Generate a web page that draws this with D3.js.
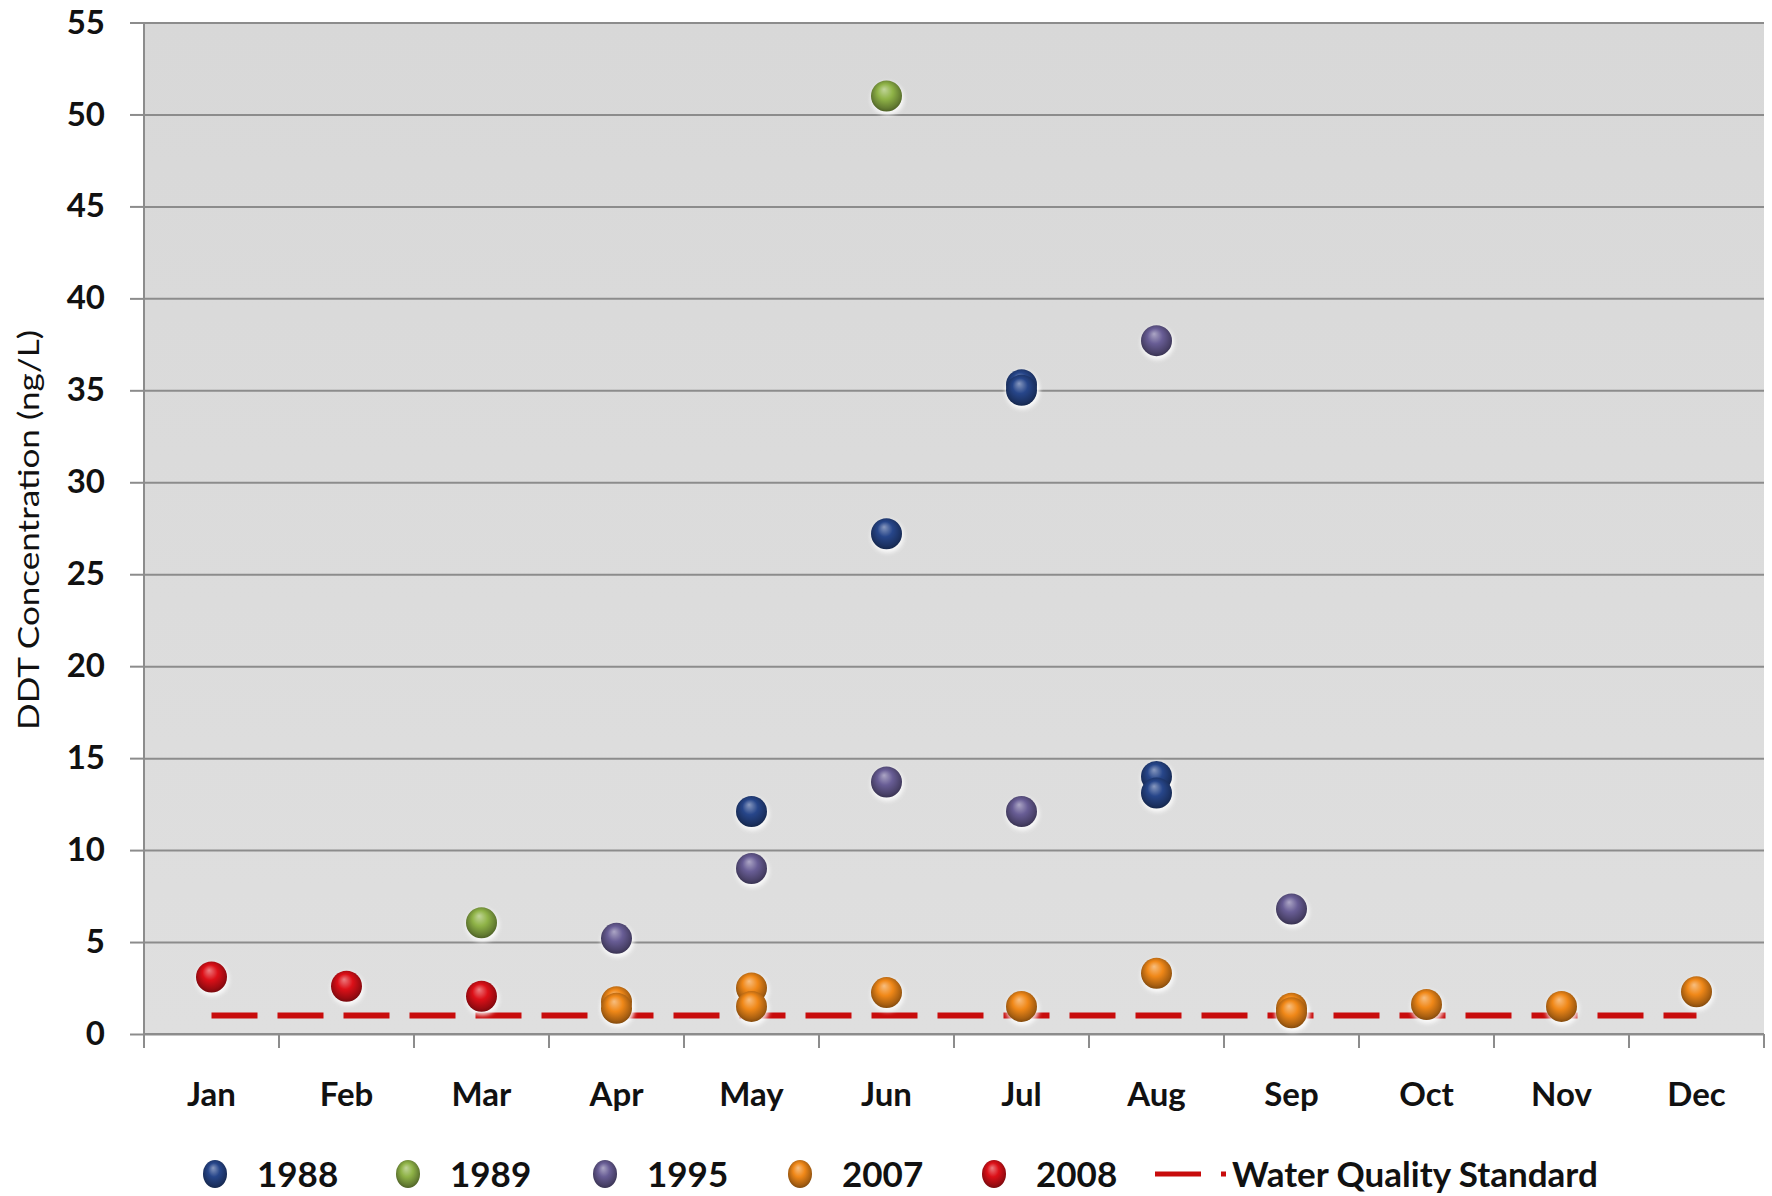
<!DOCTYPE html>
<html>
<head>
<meta charset="utf-8">
<script src="https://cdn.jsdelivr.net/npm/d3@7"></script>
<style>
  html, body { margin: 0; padding: 0; background: #ffffff; }
  svg { display: block; }
  text { font-family: Lato, "Open Sans", "DejaVu Sans", sans-serif; fill: #111; }
</style>
</head>
<body>
<script>
// ---------- data ----------
const months = ["Jan","Feb","Mar","Apr","May","Jun","Jul","Aug","Sep","Oct","Nov","Dec"];
const yTicks = [0,5,10,15,20,25,30,35,40,45,50,55];
const seriesNames = ["1988","1989","1995","2007","2008"];
const s1988 = [["May",12.1],["Jun",27.2],["Jul",35.3],["Jul",35.0],["Aug",14.0],["Aug",13.1]];
const s1989 = [["Mar",6.05],["Jun",51.0]];
const s1995 = [["Apr",5.2],["May",9.0],["Jun",13.7],["Jul",12.1],["Aug",37.7],["Sep",6.8]];
const s2007 = [["Apr",1.75],["Apr",1.4],["May",2.5],["May",1.5],["Jun",2.25],["Jul",1.5],["Aug",3.3],
               ["Sep",1.4],["Sep",1.15],["Oct",1.6],["Nov",1.5],["Dec",2.3]];
const s2008 = [["Jan",3.1],["Feb",2.6],["Mar",2.05]];
const standardName = "Water Quality Standard";
const standard = [1,1,1,1,1,1,1,1,1,1,1,1];
const yTitle = "DDT Concentration (ng/L)";

const seriesData = [s1988, s1989, s1995, s2007, s2008];
const seriesColors = ["#27468a", "#8fb347", "#685d95", "#f08818", "#dc1018"];

// ---------- layout ----------
const W = 1772, H = 1196;
const pLeft = 144, pRight = 1764, pTop = 22.5, pBottom = 1034;

const svg = d3.select("body").append("svg").attr("width", W).attr("height", H);
const defs = svg.append("defs");

// plot background gradient
const bg = defs.append("linearGradient").attr("id","bg").attr("x1",0).attr("y1",0).attr("x2",0).attr("y2",1);
bg.append("stop").attr("offset","0%").attr("stop-color","#d8d8d8");
bg.append("stop").attr("offset","100%").attr("stop-color","#dfdfdf");

// sphere gradients
seriesColors.forEach((c, i) => {
  const g = defs.append("radialGradient").attr("id","sph"+i)
    .attr("cx","50%").attr("cy","45%").attr("r","55%").attr("fx","42%").attr("fy","28%");
  g.append("stop").attr("offset","0%").attr("stop-color", d3.interpolateRgb(c, "#ffffff")(0.45));
  g.append("stop").attr("offset","45%").attr("stop-color", c);
  g.append("stop").attr("offset","85%").attr("stop-color", d3.interpolateRgb(c, "#000000")(0.3));
  g.append("stop").attr("offset","100%").attr("stop-color", d3.interpolateRgb(c, "#000000")(0.45));
});
const blur = defs.append("filter").attr("id","halo").attr("x","-50%").attr("y","-50%").attr("width","200%").attr("height","200%");
blur.append("feGaussianBlur").attr("stdDeviation", 2);

const x = d3.scaleBand().domain(months).range([pLeft, pRight]);
const y = d3.scaleLinear().domain([0, 55]).range([pBottom, pTop]);

// plot area
svg.append("rect").attr("x", pLeft).attr("y", pTop).attr("width", pRight-pLeft).attr("height", pBottom-pTop)
  .attr("fill", "url(#bg)");

// gridlines
const grid = svg.append("g").attr("transform", `translate(${pLeft},0)`)
  .call(d3.axisLeft(y).tickValues(yTicks).tickSize(-(pRight-pLeft)).tickFormat(""));
grid.select(".domain").remove();
grid.selectAll("line").attr("stroke", "#8c8c8c").attr("stroke-width", 2);

// y axis
const ya = svg.append("g").attr("transform", `translate(${pLeft},0)`)
  .call(d3.axisLeft(y).tickValues(yTicks).tickSize(14).tickPadding(25));
ya.select(".domain").attr("stroke", "#8c8c8c").attr("stroke-width", 2)
  .attr("d", `M0,${pBottom}V${pTop}`);
ya.selectAll("line").attr("stroke", "#8c8c8c").attr("stroke-width", 2);
ya.selectAll("text").attr("font-size", 33).attr("font-weight", 700).attr("fill", "#111")
  .style("font-family", "Lato, sans-serif");

// x axis (labels at category centres)
const xa = svg.append("g").attr("transform", `translate(0,${pBottom})`)
  .call(d3.axisBottom(x).tickSize(0).tickPadding(49));
xa.select(".domain").attr("stroke", "#8c8c8c").attr("stroke-width", 2)
  .attr("d", `M${pLeft},0H${pRight}`);
xa.selectAll("text").attr("font-size", 33).attr("font-weight", 700).attr("fill", "#111")
  .style("font-family", "Lato, sans-serif");

// x tick marks at category boundaries
const bounds = months.map(m => x(m)).concat([x.range()[1]]);
svg.append("g").selectAll("line").data(bounds).join("line")
  .attr("x1", d => d).attr("x2", d => d)
  .attr("y1", pBottom).attr("y2", pBottom + 14)
  .attr("stroke", "#8c8c8c").attr("stroke-width", 2);

// y title
svg.append("text")
  .attr("transform", `translate(39,530) rotate(-90)`)
  .attr("text-anchor", "middle")
  .attr("font-size", 29)
  .attr("textLength", 400).attr("lengthAdjust", "spacingAndGlyphs")
  .text(yTitle);

// water quality standard line
const line = d3.line().x((d, i) => x(months[i]) + x.bandwidth()/2).y(d => y(d));
svg.append("path").datum(standard).attr("d", line)
  .attr("fill", "none").attr("stroke", "#c80c0c").attr("stroke-width", 6)
  .attr("stroke-dasharray", "46,20");

// markers
const R = 15.5;
seriesData.forEach((data, i) => {
  const g = svg.append("g");
  g.selectAll("circle.halo").data(data).join("circle").attr("class","halo")
    .attr("cx", d => x(d[0]) + x.bandwidth()/2 + 1)
    .attr("cy", d => y(d[1]) + 2.5)
    .attr("r", R + 1)
    .attr("fill", "#ffffff").attr("opacity", 0.85).attr("filter", "url(#halo)");
  g.selectAll("circle.dot").data(data).join("circle").attr("class","dot")
    .attr("cx", d => x(d[0]) + x.bandwidth()/2)
    .attr("cy", d => y(d[1]))
    .attr("r", R)
    .attr("fill", `url(#sph${i})`);
});

// legend
const legY = 1174;
const legMarkerX = [215, 408, 605, 800, 994];
const leg = svg.append("g");
seriesNames.forEach((name, i) => {
  leg.append("ellipse").attr("cx", legMarkerX[i]).attr("cy", legY).attr("rx", 12).attr("ry", 14)
    .attr("fill", `url(#sph${i})`);
  leg.append("text").attr("x", legMarkerX[i] + 42).attr("y", legY + 12.5)
    .attr("font-size", 35).attr("font-weight", 700).text(name);
});
leg.append("line").attr("x1", 1155).attr("x2", 1226).attr("y1", legY).attr("y2", legY)
  .attr("stroke", "#c80c0c").attr("stroke-width", 5).attr("stroke-dasharray", "46,20");
leg.append("text").attr("x", 1232).attr("y", legY + 12.5)
  .attr("font-size", 35).attr("font-weight", 700).text(standardName);
</script>
</body>
</html>
